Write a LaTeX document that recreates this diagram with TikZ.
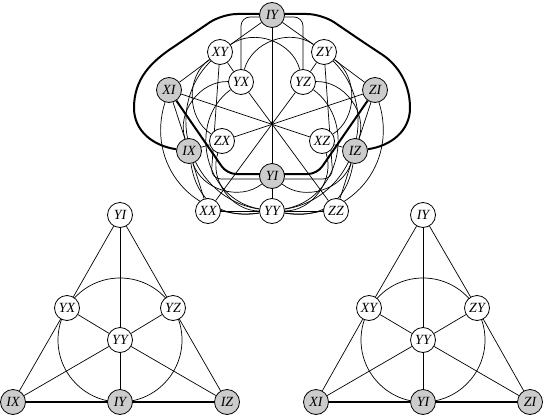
\documentclass[tikz,border=0pt]{standalone}
\usepackage{fontspec}
\setmainfont{Liberation Serif}
\definecolor{PauliGray}{RGB}{204,204,204}
\usetikzlibrary{backgrounds}

\begin{document}
\begin{tikzpicture}[x=1pt,y=1pt,
    obs/.style={circle,draw,line width=0.8pt,fill=white,minimum size=25pt,
                inner sep=0pt,font=\fontsize{14}{14}\selectfont\itshape},
    hlobs/.style={obs,fill=PauliGray},
    pline/.style={line width=0.7pt},
    boldline/.style={line width=2pt}]
  \useasboundingbox (0,0) rectangle (545,-417);
  % Doily nodes
  \node[hlobs](IY) at (272,-15){IY};
  \node[obs](XY) at (220,-52){XY};
  \node[obs](ZY) at (324,-52){ZY};
  \node[obs](YX) at (241,-82){YX};
  \node[obs](YZ) at (303,-82){YZ};
  \node[hlobs](XI) at (169,-90){XI};
  \node[hlobs](ZI) at (375,-90){ZI};
  \node[obs](ZX) at (222,-141){ZX};
  \node[obs](XZ) at (322,-141){XZ};
  \node[hlobs](IX) at (189,-151){IX};
  \node[hlobs](IZ) at (355,-151){IZ};
  \node[hlobs](YI) at (272,-176){YI};
  \node[obs](XX) at (208,-211){XX};
  \node[obs](YY) at (272,-211){YY};
  \node[obs](ZZ) at (336,-211){ZZ};
  \coordinate (ctr) at (272,-123);
  % Left Fano plane nodes
  \node[obs](lYI) at (120,-215){YI};
  \node[obs](lYX) at (67,-308){YX};
  \node[obs](lYZ) at (173,-308){YZ};
  \node[obs](lYY) at (120,-340){YY};
  \node[hlobs](lIX) at (13,-402){IX};
  \node[hlobs](lIY) at (120,-402){IY};
  \node[hlobs](lIZ) at (227,-402){IZ};
  % Right Fano plane nodes
  \node[obs](rIY) at (423,-215){IY};
  \node[obs](rXY) at (369,-308){XY};
  \node[obs](rZY) at (477,-308){ZY};
  \node[obs](rYY) at (423,-340){YY};
  \node[hlobs](rXI) at (316,-402){XI};
  \node[hlobs](rYI) at (423,-402){YI};
  \node[hlobs](rZI) at (530,-402){ZI};
  \begin{scope}[on background layer]
    % straight lines of the doily
    \draw[pline](IY)--(XY)--(XI);
    \draw[pline](IY)--(ZY)--(ZI);
    \draw[pline](IY)--(YI)--(YY);
    \draw[pline](XI)--(IX)--(XX);
    \draw[pline](ZI)--(IZ)--(ZZ);
    \draw[pline](XI)--(XZ)--(IZ);
    \draw[pline](ZI)--(ZX)--(IX);
    \draw[pline](XY)--(YX)--(ZZ);
    \draw[pline](ZY)--(YZ)--(XX);
    \draw[pline](XX)--(YY)--(ZZ);
    % curved lines of the doily
    \draw[pline](YX) to[out=178,in=108] (IX) to[out=288,in=218.5] (YI);
    \draw[pline](YZ) to[out=2,in=72] (IZ) to[out=252,in=321.5] (YI);
    \draw[pline](YZ) to[out=104.9,in=35.3] (XY) to[out=215.3,in=147.3] (ZX);
    \draw[pline](YX) to[out=75.1,in=144.7] (ZY) to[out=324.7,in=32.7] (XZ);
    \draw[pline](ZX) to[out=251.1,in=180] (YY) to[out=0,in=288.9] (XZ);
    % extra lines of the two planes
    \draw[pline,looseness=1.15](IX) to[out=278.9,in=189.4] (YY)
         to[out=9.4,in=323.5] (YZ);
    \draw[pline,looseness=1.15](IZ) to[out=261.1,in=350.6] (YY)
         to[out=170.6,in=216.5] (YX);
    \draw[pline,looseness=1.15](XY) to[out=224.7,in=171.5] (YY)
         to[out=351.5,in=287.7] (ZI);
    \draw[pline,looseness=1.15](ZY) to[out=315.3,in=8.5] (YY)
         to[out=188.5,in=252.3] (XI);
    \draw[pline,rounded corners=9pt](YX)--(241,-17)--(303,-17)--(YZ);
    \draw[pline,rounded corners=10pt](XY)--(211,-179)--(333,-179)--(ZY);
    \draw[boldline,rounded corners=9pt](XI)--(227,-174)--(317,-174)--(ZI);
    \draw[boldline](IX) to[out=172,in=270] (134,-108) to[out=90,in=213] (175,-46)
         [rounded corners=15pt]--(222,-14)--(322,-14)--(369,-46)
         [sharp corners] to[out=-33,in=90] (410,-108) to[out=270,in=8] (IZ);
    % left Fano plane
    \draw[pline](lIX)--(lYX)--(lYI)--(lYZ)--(lIZ);
    \draw[pline](lYI)--(lYY)--(lIY);
    \draw[pline](lIX)--(lYY)--(lYZ);
    \draw[pline](lIZ)--(lYY)--(lYX);
    \draw[pline](lYY.center) circle[radius=62];
    \draw[boldline](lIX)--(lIY)--(lIZ);
    % right Fano plane
    \draw[pline](rXI)--(rXY)--(rIY)--(rZY)--(rZI);
    \draw[pline](rIY)--(rYY)--(rYI);
    \draw[pline](rXI)--(rYY)--(rZY);
    \draw[pline](rZI)--(rYY)--(rXY);
    \draw[pline](rYY.center) circle[radius=62];
    \draw[boldline](rXI)--(rYI)--(rZI);
  \end{scope}
  \fill (ctr) circle[radius=1.6];
\end{tikzpicture}
\end{document}
